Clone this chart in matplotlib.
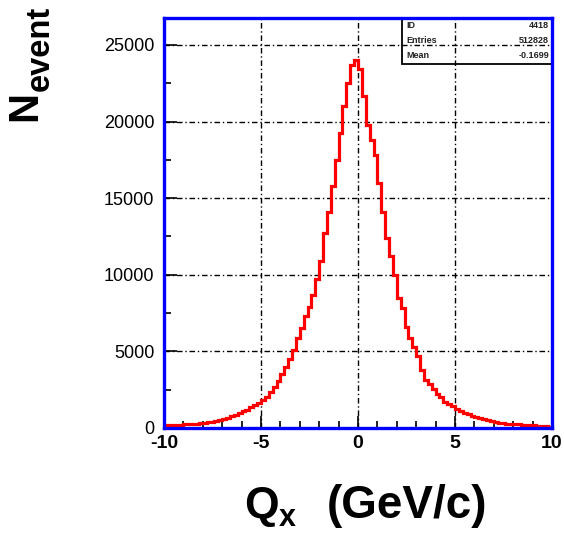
import numpy as np
import matplotlib
matplotlib.use("Agg")
import matplotlib.pyplot as plt
from matplotlib.patches import Rectangle

plt.rcParams['font.family'] = ['Liberation Sans', 'DejaVu Sans']

# Histogram binning of Q_x (GeV/c)
x_min, x_max, n_bins = -10.0, 10.0, 100

# Counts per 0.2 GeV/c bin, from -10 to 0
counts_neg = [180, 190, 200, 210, 220, 230, 250, 270, 290, 320,
              340, 370, 400, 450, 510, 570, 650, 760, 850, 960,
              1080, 1200, 1350, 1480, 1640, 1800, 2050, 2350, 2700, 3100,
              3500, 3950, 4500, 5100, 5850, 6500, 7300, 7900, 8700, 9700,
              10900, 12700, 14100, 15800, 17500, 19250, 21000, 22500, 23700, 24000]
# Counts per 0.2 GeV/c bin, from 0 to 10
counts_pos = [23400, 21700, 19800, 18800, 17800, 16000, 14100, 12400, 11200, 10000,
              8500, 7800, 6600, 5900, 5300, 4700, 3800, 3150, 2850, 2550,
              2250, 2000, 1700, 1580, 1420, 1250, 1100, 1000, 900, 800,
              730, 650, 580, 500, 430, 380, 350, 320, 290, 270,
              250, 230, 210, 200, 190, 170, 160, 140, 120, 90]

x_ticks = [-10, -5, 0, 5, 10]
x_tick_labels = ["-10", "-5", "0", "5", "10"]
y_ticks = [0, 5000, 10000, 15000, 20000, 25000]
y_tick_labels = ["0", "5000", "10000", "15000", "20000", "25000"]

stats_names = ["ID", "Entries", "Mean"]
stats_values = ["4418", "512828", "-0.1699"]

counts = np.array(counts_neg + counts_pos, dtype=float)
edges = np.linspace(x_min, x_max, n_bins + 1)

fig = plt.figure(figsize=(5.64, 5.33), dpi=100)
ax = fig.add_axes([164 / 564, 1 - 428 / 533, 388 / 564, 410 / 533])

ax.stairs(counts, edges, color=(1, 0, 0), lw=2.3, zorder=3)

ax.set_xlim(x_min, x_max)
ax.set_ylim(0, 26760)

ax.set_xticks(x_ticks)
ax.set_xticklabels(x_tick_labels, fontsize=14, fontweight='bold')
ax.set_yticks(y_ticks)
ax.set_yticklabels(y_tick_labels, fontsize=13)
ax.set_xticks(np.arange(-9, 10, 1), minor=True)
ax.set_yticks(np.arange(2500, 26000, 5000), minor=True)

ax.tick_params(axis='both', which='major', direction='in', length=9, width=1.2,
               color='black')
ax.tick_params(axis='both', which='minor', direction='in', length=5, width=1.2,
               color='black')
ax.tick_params(axis='x', which='major', pad=5)
ax.tick_params(axis='y', which='major', pad=7)

ax.grid(True, which='major', color='black', lw=1.0,
        linestyle=(0, (4, 2, 1, 2)), zorder=2)
ax.set_axisbelow(False)

for side in ['left', 'right', 'top', 'bottom']:
    ax.spines[side].set_color((0, 0, 1))
    ax.spines[side].set_linewidth(2.4)
    ax.spines[side].set_zorder(4)

# Statistics box in the upper right corner
bx0 = (401.7 - 164) / 388
by0 = (428 - 63.5) / 410
ax.add_patch(Rectangle((bx0, by0), 1 - bx0, 1 - by0, transform=ax.transAxes,
                       facecolor='none', edgecolor='black', lw=1.3, zorder=3))
row_y = [25, 40.5, 56]
for name, val, ypix in zip(stats_names, stats_values, row_y):
    yy = (428 - ypix) / 410
    ax.text((406 - 164) / 388, yy, name, transform=ax.transAxes, fontsize=6.5,
            fontweight='bold', color='#222222', va='center', ha='left', zorder=5)
    ax.text((549 - 164) / 388, yy, val, transform=ax.transAxes, fontsize=6.5,
            fontweight='bold', color='#222222', va='center', ha='right', zorder=5)

# Axis titles
fig.text(45 / 564, 1 - 106 / 533, "N", rotation=90, fontsize=30, fontweight='bold',
         ha='right', va='center')
fig.text(56 / 564, 1 - 48 / 533, "event", rotation=90, fontsize=23.5, fontweight='bold',
         ha='right', va='center')

fig.text(244 / 564, 1 - 518 / 533, "Q", fontsize=32, fontweight='bold',
         ha='left', va='baseline')
fig.text(279 / 564, 1 - 526 / 533, "x", fontsize=22, fontweight='bold',
         ha='left', va='baseline')
fig.text(327 / 564, 1 - 518 / 533, "(GeV/c)", fontsize=33, fontweight='bold',
         ha='left', va='baseline')

fig.savefig("out.png", dpi=100, facecolor='white')
